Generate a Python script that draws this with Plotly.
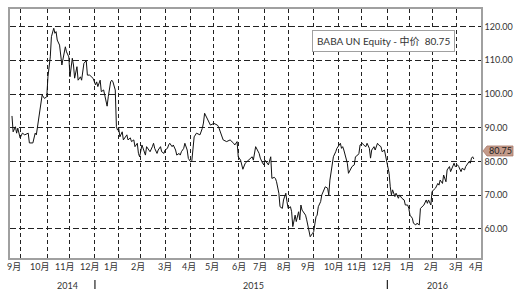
import plotly.graph_objects as go

# trading-day index (0 = 2014-09-19) and mid price
day = [0, 1, 3, 4, 5, 7, 9, 11, 14, 15, 18, 20, 21, 24, 26, 28, 30, 31, 33, 34,
       36, 37, 38, 39, 40, 41, 43, 44, 46, 47, 49, 50, 52, 53, 54, 56, 57, 59, 60, 62,
       63, 64, 65, 67, 70, 72, 73, 74, 76, 77, 79, 80, 82, 83, 85, 86, 87, 89, 90, 91,
       92, 93, 95, 96, 98, 99, 100, 102, 103, 105, 106, 108, 109, 110, 112, 113, 115, 116, 118, 119,
       121, 122, 123, 125, 126, 128, 129, 131, 132, 134, 135, 136, 138, 139, 141, 142, 144, 145, 146, 148,
       149, 151, 152, 154, 155, 156, 157, 159, 162, 164, 165, 166, 168, 169, 171, 174, 177, 178, 180, 181,
       182, 185, 188, 191, 192, 194, 195, 197, 199, 201, 204, 207, 208, 210, 213, 214, 216, 217, 218, 220,
       221, 223, 224, 226, 227, 228, 230, 231, 233, 234, 236, 237, 238, 240, 241, 242, 244, 245, 247, 248,
       249, 250, 251, 253, 254, 256, 257, 259, 260, 262, 263, 264, 266, 267, 269, 270, 272, 273, 274, 276,
       277, 279, 280, 282, 283, 284, 285, 286, 288, 289, 290, 292, 293, 295, 296, 298, 299, 300, 302, 303,
       305, 306, 308, 309, 310, 312, 313, 315, 316, 318, 319, 321, 322, 324, 325, 326, 327, 328, 330, 331,
       333, 334, 336, 338, 339, 341, 342, 343, 344, 345, 346, 348, 349, 351, 352, 354, 355, 357, 358, 359,
       361, 362, 364, 365, 367, 368, 369, 371, 372, 374, 375, 377, 378, 380, 381, 382, 384, 385, 387, 388,
       390, 391, 392, 394, 395, 396, 397, 398]
price = [93.5, 88.8, 90.3, 88.4, 89.9, 87.0, 88.4, 87.9, 88.4, 85.5, 85.5, 88.4, 87.9, 94.4, 99.7, 98.7, 99.2, 105.1, 111.0, 117.0,
         119.5, 118.0, 118.5, 116.0, 115.0, 114.5, 108.6, 110.6, 114.0, 112.5, 111.0, 105.1, 110.6, 108.6, 104.7, 108.1, 104.1, 105.1, 104.1, 109.1,
         109.6, 109.9, 105.6, 105.6, 104.6, 102.7, 103.6, 102.2, 104.1, 100.7, 101.2, 99.7, 96.4, 99.2, 103.6, 104.1, 103.6, 101.2, 90.3, 89.3,
         89.8, 87.3, 88.8, 86.4, 87.3, 87.9, 86.4, 87.0, 85.9, 86.4, 84.4, 85.4, 82.4, 81.4, 84.9, 83.9, 81.9, 84.4, 83.4, 82.9,
         84.4, 85.4, 83.9, 82.4, 83.4, 84.4, 82.9, 82.4, 83.4, 83.9, 84.9, 85.4, 84.4, 84.9, 83.4, 81.9, 82.4, 81.9, 82.9, 83.9,
         85.4, 83.4, 80.9, 79.9, 80.2, 85.4, 87.3, 88.4, 87.9, 89.8, 91.4, 94.3, 92.8, 91.8, 90.8, 91.3, 90.8, 90.3, 88.4, 87.3,
         86.4, 85.9, 86.4, 85.4, 84.9, 85.9, 81.4, 80.4, 77.7, 79.5, 80.4, 81.4, 80.4, 84.4, 82.4, 81.0, 79.5, 79.0, 80.4, 79.5,
         79.0, 81.4, 75.0, 75.3, 75.0, 74.0, 70.6, 66.6, 66.1, 68.6, 70.6, 68.1, 66.1, 66.6, 65.1, 60.7, 64.1, 62.2, 65.1, 62.7,
         67.1, 65.6, 65.1, 64.1, 62.7, 59.7, 57.7, 58.7, 59.2, 63.6, 64.1, 66.6, 68.1, 70.1, 71.6, 72.5, 72.1, 70.1, 74.5, 78.5,
         81.4, 82.9, 83.9, 84.9, 85.4, 83.9, 84.4, 83.4, 80.9, 79.5, 76.5, 78.0, 78.5, 79.0, 81.4, 81.9, 82.4, 84.9, 85.4, 84.9,
         84.4, 85.4, 83.9, 81.0, 83.4, 84.4, 83.4, 85.4, 84.9, 84.4, 82.9, 83.4, 81.4, 78.5, 76.5, 72.5, 70.1, 71.6, 69.6, 70.6,
         69.1, 70.1, 69.1, 68.6, 67.1, 67.1, 66.1, 64.1, 63.6, 63.2, 61.7, 61.2, 61.7, 61.2, 66.1, 66.6, 67.1, 68.6, 67.6, 68.6,
         67.1, 71.1, 71.6, 72.1, 73.5, 73.0, 74.5, 73.5, 76.0, 74.0, 77.5, 78.5, 77.0, 79.0, 79.5, 78.5, 79.0, 78.5, 77.0, 78.0,
         77.5, 78.5, 79.0, 80.0, 79.5, 81.0, 81.4, 80.75]

# month boundaries (between last and first trading day of months)
month_bounds = [7.5, 30.5, 49.5, 71.5, 91.5, 110.5, 132.5, 153.5, 173.5, 195.5,
                217.5, 238.5, 259.5, 281.5, 301.5, 323.5, 342.5, 362.5, 383.5]
month_label_pos = [1.7, 23.6, 45.1, 66.7, 85.4, 108.5, 131.5, 152.2, 172.4, 195.3,
                   214.1, 234.8, 255.5, 277.1, 296.9, 318.5, 340.1, 361.4, 382.4, 399.7]
month_labels = ["9月", "10月", "11月", "12月", "1月", "2月", "3月", "4月", "5月", "6月",
                "7月", "8月", "9月", "10月", "11月", "12月", "1月", "2月", "3月", "4月"]
years = ["2014", "2015", "2016"]
year_pos = [47.5, 207.8, 366.6]
year_breaks = [71.5, 323.5]
y_ticks = [60, 70, 80, 90, 100, 110, 120]
last_price = price[-1]
series_name = "BABA UN Equity - 中价"

FONT = "Lato, 'Noto Sans CJK SC', sans-serif"
TXT = "#333333"
XR = [-1.7, 404.2]

fig = go.Figure()
fig.add_trace(go.Scatter(x=day, y=price, mode="lines",
                         line=dict(color="#111111", width=1), showlegend=False,
                         hoverinfo="skip"))

fig.update_layout(
    width=515, height=290, autosize=False,
    margin=dict(l=10, r=34.3, t=9, b=32, autoexpand=False),
    paper_bgcolor="white", plot_bgcolor="white",
    font=dict(family=FONT, size=9, color=TXT),
    xaxis=dict(range=XR, tickvals=month_bounds, showticklabels=False, ticks="",
               showgrid=True, gridcolor="#222222", gridwidth=1, griddash="4px,3px",
               showline=True, linecolor="#a0a0a0", linewidth=1.5, mirror=True,
               zeroline=False),
    yaxis=dict(range=[51.4, 125.2], side="right", tickvals=y_ticks, tickformat=".2f",
               ticks="", showgrid=True, gridcolor="#222222", gridwidth=1,
               griddash="6px,3px", showline=True, linecolor="#a0a0a0", linewidth=1.5,
               mirror=True, zeroline=False,
               tickfont=dict(family=FONT, size=9, color=TXT)),
)

# month labels
for mp, ml in zip(month_label_pos, month_labels):
    fig.add_annotation(x=mp, y=0, xref="x", yref="paper", text=ml, showarrow=False,
                       xanchor="center", yanchor="middle", yshift=-8,
                       font=dict(family=FONT, size=9, color=TXT))

# year labels and separators
for yl, yp in zip(years, year_pos):
    fig.add_annotation(x=yp, y=0, xref="x", yref="paper", text=yl, showarrow=False,
                       xanchor="center", yanchor="middle", yshift=-27,
                       font=dict(family=FONT, size=9, color=TXT))
for yb in year_breaks:
    fig.add_shape(type="line", xref="x", yref="paper", x0=yb, x1=yb, y0=-0.088, y1=-0.1245,
                  line=dict(color="#222222", width=1.2))

# legend box
fig.add_annotation(x=0.7924, y=0.8715, xref="paper", yref="paper",
                   text=series_name + "&nbsp;&nbsp;" + f"{last_price:.2f}",
                   showarrow=False, xanchor="center", yanchor="middle",
                   bgcolor="white", bordercolor="#a0a0a0", borderwidth=1, borderpad=4,
                   font=dict(family=FONT, size=10, color=TXT))

# last price tag
fig.add_shape(type="path", xref="paper", yref="y", xsizemode="pixel", ysizemode="pixel",
              xanchor=1, yanchor=last_price,
              path="M 2 8 L 6 13 L 32 13 L 32 3 L 6 3 Z",
              fillcolor="#c49b8b", line=dict(color="#a87a6a", width=0.8))
fig.add_annotation(x=1, y=last_price, xref="paper", yref="y", text=f"{last_price:.2f}",
                   showarrow=False, xanchor="center", yanchor="middle", xshift=19, yshift=8,
                   font=dict(family=FONT, size=9, color="#222222"))

fig.write_html("out.html", config={"displayModeBar": False},
               post_script="document.body.style.margin='0';document.body.style.overflow='hidden';")
